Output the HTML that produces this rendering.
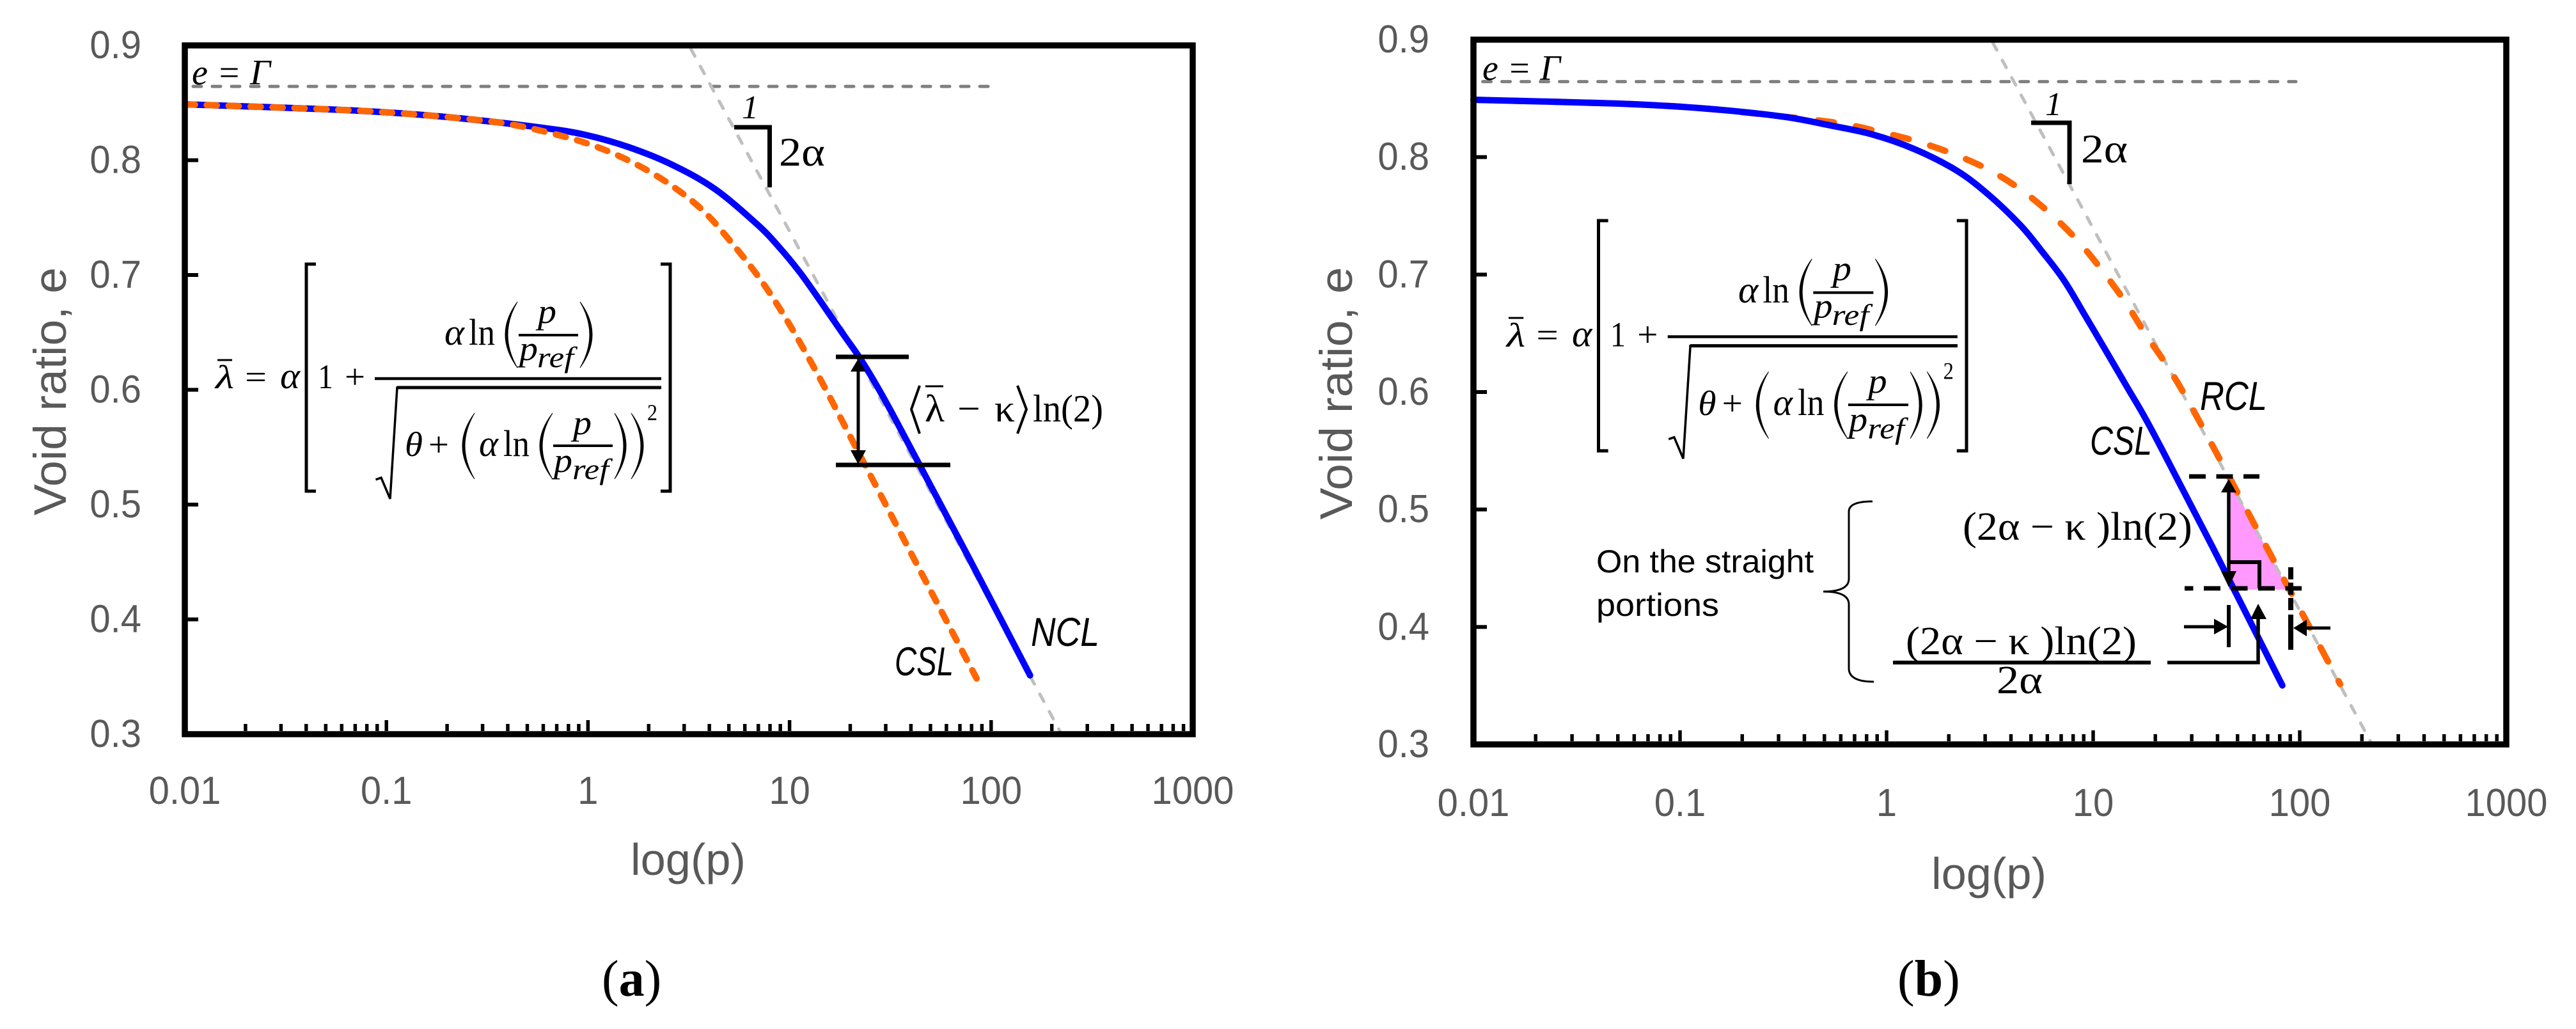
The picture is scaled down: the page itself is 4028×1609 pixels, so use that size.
<!DOCTYPE html>
<html lang="en">
<head>
<meta charset="utf-8">
<title>Void ratio versus log(p): NCL, CSL and RCL</title>
<style>
html,body{margin:0;padding:0;background:#fff;width:4028px;height:1609px;overflow:hidden}
svg{display:block}
text{font-family:"Liberation Serif",serif;fill:#000}
.sans{font-family:"Liberation Sans",sans-serif}
.gray{fill:#595959}
.it{font-style:italic}
</style>
</head>
<body>
<svg id="figure" xmlns="http://www.w3.org/2000/svg" width="4028" height="1609" viewBox="0 0 4028 1609">
<rect x="0" y="0" width="4028" height="1609" fill="#fff"/>

<polygon points="3485,747 3485,922 3578,922" fill="#ff99ff"/>

<g id="chart-a"></g>
<g id="chart-b"></g>

<!-- Panel A annotations -->
<g>
  <text class="it" x="300" y="132" font-size="56" textLength="123" lengthAdjust="spacingAndGlyphs">e = Γ</text>
  <text class="it" x="1160" y="185" font-size="52">1</text>
  <path d="M1148,199H1203.5V293" fill="none" stroke="#000" stroke-width="7"/>
  <text x="1218" y="259" font-size="64" textLength="72" lengthAdjust="spacingAndGlyphs">2α</text>
  <line x1="1307" y1="558" x2="1421" y2="558" stroke="#000" stroke-width="7"/>
  <line x1="1307" y1="727" x2="1486" y2="727" stroke="#000" stroke-width="7"/>
  <line x1="1342" y1="575" x2="1342" y2="710" stroke="#000" stroke-width="5"/>
  <polygon points="1342,561 1330,581 1354,581" fill="#000"/>
  <polygon points="1342,726 1330,704 1354,704" fill="#000"/>
  <polyline points="1438,603 1425,640 1438,678" fill="none" stroke="#000" stroke-width="4"/>
  <polyline points="1591,603 1605,640 1591,678" fill="none" stroke="#000" stroke-width="4"/>
  <line x1="1447" y1="604" x2="1475" y2="604" stroke="#000" stroke-width="3"/>
  <text x="1446" y="659" font-size="60" textLength="31" lengthAdjust="spacingAndGlyphs">λ</text>
  <text x="1497" y="659" font-size="60" textLength="36" lengthAdjust="spacingAndGlyphs">−</text>
  <text x="1555" y="659" font-size="60" textLength="32" lengthAdjust="spacingAndGlyphs">κ</text>
  <text x="1615" y="659" font-size="60" textLength="110" lengthAdjust="spacingAndGlyphs">ln(2)</text>
  <text class="sans it" x="1399" y="1056" font-size="63" textLength="92" lengthAdjust="spacingAndGlyphs">CSL</text>
  <text class="sans it" x="1612" y="1010" font-size="63" textLength="107" lengthAdjust="spacingAndGlyphs">NCL</text>
</g>

<!-- Formula (cloned by the script for panel B) -->
<g id="formula">
  <line x1="340" y1="563" x2="363" y2="563" stroke="#000" stroke-width="3"/>
  <text class="it" x="337" y="607" font-size="52" textLength="29" lengthAdjust="spacingAndGlyphs">λ</text>
  <text x="383" y="607" font-size="52" textLength="34" lengthAdjust="spacingAndGlyphs">=</text>
  <text class="it" x="438" y="607" font-size="58" textLength="31" lengthAdjust="spacingAndGlyphs">α</text>
  <path d="M494,413H479V768H494M1033,413H1048V768H1033" fill="none" stroke="#000" stroke-width="5"/>
  <text x="497" y="607" font-size="54" textLength="24" lengthAdjust="spacingAndGlyphs">1</text>
  <text x="539" y="607" font-size="54" textLength="32" lengthAdjust="spacingAndGlyphs">+</text>
  <line x1="586" y1="592" x2="1034" y2="592" stroke="#000" stroke-width="4.5"/>
  <path d="M587.5,750L596,747L610,780L621,606H1034" fill="none" stroke="#000" stroke-width="3.5"/>
  <line x1="621" y1="606" x2="1034" y2="606" stroke="#000" stroke-width="5"/>
  <text class="it" x="695" y="539" font-size="58" textLength="31" lengthAdjust="spacingAndGlyphs">α</text>
  <text x="733" y="539" font-size="58" textLength="41" lengthAdjust="spacingAndGlyphs">ln</text>
  <path d="M809,472Q771,523 809,575Q779,523 809,472ZM907,472Q945,523 907,575Q937,523 907,472Z" fill="#000" stroke="#000" stroke-width="1"/>
  <text class="it" x="841" y="505" font-size="54" textLength="29" lengthAdjust="spacingAndGlyphs">p</text>
  <line x1="811" y1="524" x2="904" y2="524" stroke="#000" stroke-width="4"/>
  <text class="it" x="812" y="563" font-size="54" textLength="29" lengthAdjust="spacingAndGlyphs">p</text>
  <text class="it" x="840" y="574" font-size="46" textLength="57" lengthAdjust="spacingAndGlyphs">ref</text>
  <text class="it" x="633" y="713" font-size="54" textLength="28" lengthAdjust="spacingAndGlyphs">θ</text>
  <text x="670" y="713" font-size="54" textLength="32" lengthAdjust="spacingAndGlyphs">+</text>
  <path d="M742,646Q704,697 742,749Q712,697 742,646ZM864,646Q824,697 864,749Q832,697 864,646ZM961,646Q997,697 961,749Q989,697 961,646ZM987,646Q1025,697 987,749Q1017,697 987,646Z" fill="#000" stroke="#000" stroke-width="1"/>
  <text class="it" x="749" y="713" font-size="58" textLength="30" lengthAdjust="spacingAndGlyphs">α</text>
  <text x="787" y="713" font-size="58" textLength="41" lengthAdjust="spacingAndGlyphs">ln</text>
  <text class="it" x="896" y="679" font-size="54" textLength="29" lengthAdjust="spacingAndGlyphs">p</text>
  <line x1="865" y1="697" x2="958" y2="697" stroke="#000" stroke-width="4"/>
  <text class="it" x="866" y="738" font-size="54" textLength="29" lengthAdjust="spacingAndGlyphs">p</text>
  <text class="it" x="895" y="749" font-size="46" textLength="57" lengthAdjust="spacingAndGlyphs">ref</text>
  <text x="1012" y="657" font-size="36" textLength="16" lengthAdjust="spacingAndGlyphs">2</text>
</g>

<!-- Panel B annotations -->
<g>
  <text class="it" x="2318" y="125" font-size="56" textLength="122" lengthAdjust="spacingAndGlyphs">e = Γ</text>
  <text class="it" x="3198" y="180" font-size="52">1</text>
  <path d="M3176,192H3236V288" fill="none" stroke="#000" stroke-width="7"/>
  <text x="3254" y="254" font-size="64" textLength="73" lengthAdjust="spacingAndGlyphs">2α</text>
  <text class="sans it" x="3440" y="641" font-size="63" textLength="105" lengthAdjust="spacingAndGlyphs">RCL</text>
  <text class="sans it" x="3268" y="711" font-size="63" textLength="97" lengthAdjust="spacingAndGlyphs">CSL</text>
  <text class="sans" x="2496" y="895" font-size="50" textLength="340" lengthAdjust="spacingAndGlyphs">On the straight</text>
  <text class="sans" x="2496" y="963" font-size="50" textLength="192" lengthAdjust="spacingAndGlyphs">portions</text>
  <path d="M2928,784Q2891,784 2891,800V905Q2891,925 2851,925Q2891,925 2891,945V1045Q2891,1066 2930,1066" fill="none" stroke="#000" stroke-width="3"/>
  <text x="3069" y="844" font-size="62" textLength="359" lengthAdjust="spacingAndGlyphs">(2α − κ )ln(2)</text>
  <text x="2980" y="1023" font-size="62" textLength="361" lengthAdjust="spacingAndGlyphs">(2α − κ )ln(2)</text>
  <line x1="2960" y1="1036" x2="3363" y2="1036" stroke="#000" stroke-width="6"/>
  <text x="3122" y="1084" font-size="62" textLength="72" lengthAdjust="spacingAndGlyphs">2α</text>
  <path d="M3389,1036H3531V965" fill="none" stroke="#000" stroke-width="5.5"/>
  <polygon points="3531,944 3519,968 3544,968" fill="#000"/>
  <line x1="3423" y1="745" x2="3533" y2="745" stroke="#000" stroke-width="7" stroke-dasharray="26 16.5"/>
  <line x1="3416" y1="920" x2="3599" y2="920" stroke="#000" stroke-width="7" stroke-dasharray="26 16.5" stroke-dashoffset="12.5"/>
  <line x1="3582" y1="887" x2="3582" y2="954" stroke="#000" stroke-width="8" stroke-dasharray="19 5"/>
  <line x1="3485" y1="765" x2="3485" y2="900" stroke="#000" stroke-width="5.5"/>
  <polygon points="3485,749 3473,770 3497,770" fill="#000"/>
  <polygon points="3485,918 3473,893 3497,893" fill="#000"/>
  <path d="M3485,879H3533V920" fill="none" stroke="#000" stroke-width="6"/>
  <line x1="3485" y1="946" x2="3485" y2="1012" stroke="#000" stroke-width="6"/>
  <line x1="3582" y1="961" x2="3582" y2="1016" stroke="#000" stroke-width="8"/>
  <line x1="3415" y1="980" x2="3465" y2="980" stroke="#000" stroke-width="5"/>
  <polygon points="3484,980 3462,967.5 3462,992" fill="#000"/>
  <line x1="3605" y1="982" x2="3644" y2="982" stroke="#000" stroke-width="5"/>
  <polygon points="3586,982 3607,969 3607,995" fill="#000"/>
</g>

<text x="941" y="1557" font-size="80">(<tspan font-weight="bold">a</tspan>)</text>
<text x="2967" y="1557" font-size="80">(<tspan font-weight="bold">b</tspan>)</text>
</svg>

<script>
// ---- Shared axis data ----
const xTickValues = [0.01, 0.1, 1, 10, 100, 1000];
const xTickLabels = ['0.01', '0.1', '1', '10', '100', '1000'];
const minorMultipliers = [2, 3, 4, 5, 6, 7, 8, 9];
const yTickValues = [0.3, 0.4, 0.5, 0.6, 0.7, 0.8, 0.9];
const yTickLabels = ['0.3', '0.4', '0.5', '0.6', '0.7', '0.8', '0.9'];

// ---- Panel A series ----
const nclPressureA = [0.01, 0.0518, 0.113, 0.233, 0.603, 0.982, 1.59, 2.59, 4.24, 6.86, 8.79, 11.2, 14.3, 18.2, 22.1, 26.5, 32.5, 44.2, 78.7, 156];
const nclVoidA = [0.8487, 0.8443, 0.8411, 0.8365, 0.8281, 0.8219, 0.8114, 0.7964, 0.7752, 0.7446, 0.7251, 0.7028, 0.6766, 0.6499, 0.6288, 0.6064, 0.5786, 0.5345, 0.4515, 0.3512];
const cslPressureA = [0.01, 0.0518, 0.113, 0.233, 0.388, 0.634, 1.03, 1.64, 2.54, 3.74, 5.27, 7.21, 9.46, 12.1, 15.3, 22.7, 43.9, 84.7];
const cslVoidA = [0.8487, 0.8443, 0.8411, 0.8365, 0.832, 0.8242, 0.8136, 0.7986, 0.7791, 0.7557, 0.7262, 0.6955, 0.6638, 0.6315, 0.5986, 0.5407, 0.4443, 0.3485];
const gammaPressureA = [0.011, 96.6];
const gammaVoidA = [0.8643, 0.8643];
const slopePressureA = [3.24, 225];
const slopeVoidA = [0.897, 0.299];

// ---- Panel B series ----
const cslPressureB = [0.01, 0.0493, 0.123, 0.308, 0.526, 0.849, 1.36, 2.19, 3.13, 4.47, 5.65, 7.21, 9.12, 11.5, 14.7, 17.6, 21.4, 37.9, 82.4];
const cslVoidB = [0.8488, 0.8456, 0.8418, 0.8347, 0.8272, 0.8194, 0.8069, 0.7884, 0.7677, 0.7416, 0.7198, 0.6953, 0.6654, 0.6354, 0.6033, 0.5799, 0.5521, 0.4678, 0.3502];
const rclPressureB = [0.01, 0.0493, 0.123, 0.308, 0.598, 0.918, 1.4, 2.11, 3.15, 4.53, 6.34, 8.61, 11.3, 14.5, 17.7, 27.7, 66.1, 157];
const rclVoidB = [0.8488, 0.8456, 0.8418, 0.8347, 0.8287, 0.8216, 0.8134, 0.8026, 0.7889, 0.7715, 0.7503, 0.7269, 0.7013, 0.6752, 0.6507, 0.5979, 0.4743, 0.3513];
const gammaPressureB = [0.0111, 95.8];
const gammaVoidB = [0.8643, 0.8643];
const slopePressureB = [3.27, 224];
const slopeVoidB = [0.8973, 0.3];

const SVGNS = 'http://www.w3.org/2000/svg';

function add(parent, tag, attrs) {
  const node = document.createElementNS(SVGNS, tag);
  for (const key in attrs) node.setAttribute(key, attrs[key]);
  parent.appendChild(node);
  return node;
}

function smoothPath(points) {
  let d = 'M' + points[0][0].toFixed(1) + ',' + points[0][1].toFixed(1);
  for (let i = 0; i < points.length - 1; i++) {
    const p0 = points[Math.max(i - 1, 0)];
    const p1 = points[i];
    const p2 = points[i + 1];
    const p3 = points[Math.min(i + 2, points.length - 1)];
    const c1x = p1[0] + (p2[0] - p0[0]) / 6;
    const c1y = p1[1] + (p2[1] - p0[1]) / 6;
    const c2x = p2[0] - (p3[0] - p1[0]) / 6;
    const c2y = p2[1] - (p3[1] - p1[1]) / 6;
    d += 'C' + c1x.toFixed(1) + ',' + c1y.toFixed(1) + ' ' + c2x.toFixed(1) + ',' + c2y.toFixed(1) + ' ' + p2[0].toFixed(1) + ',' + p2[1].toFixed(1);
  }
  return d;
}

function makeAxes(box) {
  const x = function (p) { return box.left + (Math.log10(p) + 2) / 5 * (box.right - box.left); };
  const y = function (e) { return box.bottom - (e - 0.3) / 0.6 * (box.bottom - box.top); };
  return { x: x, y: y };
}

function seriesPoints(axes, pressures, voids) {
  return pressures.map(function (p, i) { return [axes.x(p), axes.y(voids[i])]; });
}

function drawLine(group, axes, pressures, voids, style) {
  const path = add(group, 'path', Object.assign({ d: smoothPath(seriesPoints(axes, pressures, voids)), fill: 'none', 'stroke-linejoin': 'round' }, style));
  return path;
}

function fitText(node, ratio) {
  const len = node.getComputedTextLength();
  node.setAttribute('textLength', (len * ratio).toFixed(1));
  node.setAttribute('lengthAdjust', 'spacingAndGlyphs');
}

function drawFrameAndAxes(group, axes, box) {
  const inner = box.bottom - 5;
  for (let d = 0; d < xTickValues.length - 1; d++) {
    minorMultipliers.forEach(function (m) {
      const px = axes.x(xTickValues[d] * m);
      const tick = add(group, 'line', { x1: px, x2: px, y1: inner, y2: inner - 11, stroke: '#000', 'stroke-width': 5.5 });
      
      
    });
  }
  xTickValues.forEach(function (v, i) {
    const px = axes.x(v);
    if (i > 0 && i < xTickValues.length - 1) {
      const tick = add(group, 'line', { x1: px, x2: px, y1: inner, y2: inner - 17, stroke: '#000', 'stroke-width': 5.5 });
      
      
    }
    const label = add(group, 'text', { x: px, y: box.xLabelY, 'font-size': 61, 'text-anchor': 'middle', class: 'sans gray' });
    
    
    label.textContent = xTickLabels[i];
    fitText(label, 0.95);
  });
  yTickValues.forEach(function (v, i) {
    const py = axes.y(v);
    if (i > 0 && i < yTickValues.length - 1) {
      const tick = add(group, 'line', { x1: box.left, x2: box.left + 21, y1: py, y2: py, stroke: '#000', 'stroke-width': 6 });
      
      
    }
    const label = add(group, 'text', { x: box.yLabelX, y: py + 20, 'font-size': 61, 'text-anchor': 'end', class: 'sans gray' });
    
    
    label.textContent = yTickLabels[i];
    fitText(label, 0.95);
  });
  const frame = add(group, 'rect', { x: box.left, y: box.top, width: box.right - box.left, height: box.bottom - box.top, fill: 'none', stroke: '#000', 'stroke-width': 9.5 });
  
  

  const yTitle = add(group, 'text', { transform: 'translate(' + box.yTitleX + ',' + box.yTitleY + ') rotate(-90)', 'font-size': 71, 'text-anchor': 'middle', class: 'sans gray' });
  
  
  yTitle.textContent = 'Void ratio, e';
  yTitle.setAttribute('textLength', box.yTitleLen);
  yTitle.setAttribute('lengthAdjust', 'spacingAndGlyphs');

  const xTitle = add(group, 'text', { x: box.xTitleX, y: box.xTitleY, 'font-size': 70, class: 'sans gray' });
  
  
  xTitle.textContent = 'log(p)';
  xTitle.setAttribute('textLength', 180);
  xTitle.setAttribute('lengthAdjust', 'spacingAndGlyphs');
}

const grayDash = { stroke: '#7f7f7f', 'stroke-width': 5, 'stroke-dasharray': '13 17', 'stroke-linecap': 'round' };
const slopeDash = { stroke: '#bfbfbf', 'stroke-width': 5, 'stroke-dasharray': '13 18', 'stroke-linecap': 'round' };
const blueSolid = { stroke: '#0000ff', 'stroke-width': 10, 'stroke-linecap': 'round' };

// ---- Panel A ----
const boxA = { left: 289, right: 1865, top: 71, bottom: 1148, xLabelY: 1257, yLabelX: 221, yTitleX: 103, yTitleY: 612, yTitleLen: 388, xTitleX: 986, xTitleY: 1368 };
const axesA = makeAxes(boxA);
const groupA = document.getElementById('chart-a');

const gammaA = drawLine(groupA, axesA, gammaPressureA, gammaVoidA, grayDash);



const slopeA = drawLine(groupA, axesA, slopePressureA, slopeVoidA, slopeDash);



const nclA = drawLine(groupA, axesA, nclPressureA, nclVoidA, blueSolid);



const cslA = drawLine(groupA, axesA, cslPressureA, cslVoidA, { stroke: '#ff6600', 'stroke-width': 10, 'stroke-dasharray': '16 18.3', 'stroke-linecap': 'round' });



drawFrameAndAxes(groupA, axesA, boxA);

// ---- Panel B ----
const boxB = { left: 2304, right: 3919, top: 62, bottom: 1164, xLabelY: 1276, yLabelX: 2235, yTitleX: 2114, yTitleY: 615, yTitleLen: 395, xTitleX: 3020, xTitleY: 1390 };
const axesB = makeAxes(boxB);
const groupB = document.getElementById('chart-b');

const gammaB = drawLine(groupB, axesB, gammaPressureB, gammaVoidB, grayDash);



const slopeB = drawLine(groupB, axesB, slopePressureB, slopeVoidB, slopeDash);



const rclB = drawLine(groupB, axesB, rclPressureB, rclVoidB, { stroke: '#ff6600', 'stroke-width': 10, 'stroke-dasharray': '25 35', 'stroke-linecap': 'round' });



const cslB = drawLine(groupB, axesB, cslPressureB, cslVoidB, blueSolid);



drawFrameAndAxes(groupB, axesB, boxB);

// ---- Formula copy for panel B ----
const formulaA = document.getElementById('formula');
const formulaB = formulaA.cloneNode(true);
formulaB.removeAttribute('id');


formulaB.setAttribute('transform', 'translate(2499.5,345) scale(1.0114,1.014) translate(-479,-413)');
document.getElementById('figure').appendChild(formulaB);
</script>
</body>
</html>
